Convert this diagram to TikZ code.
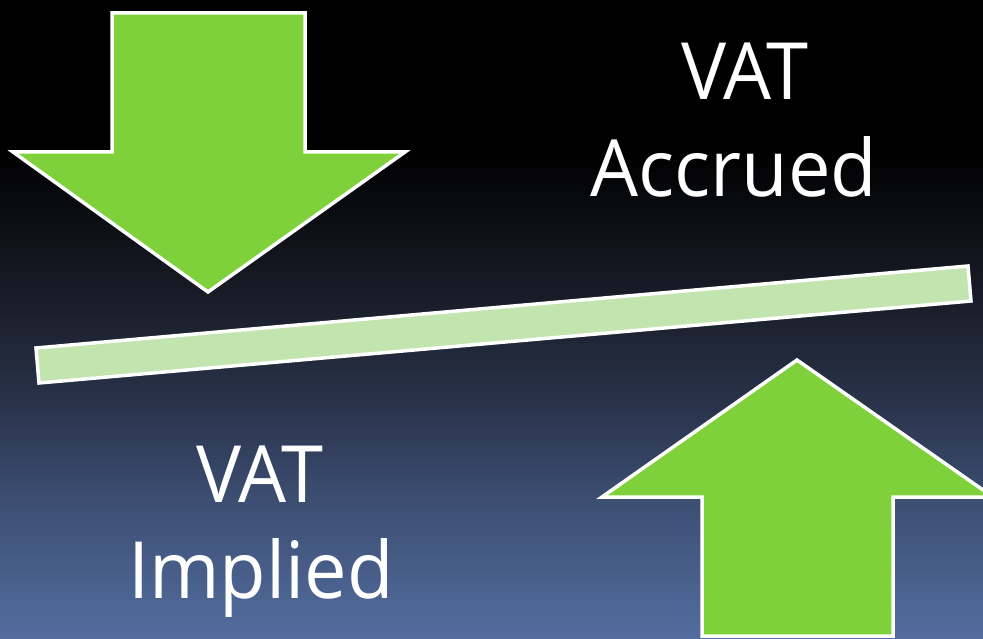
\documentclass[tikz,border=0pt]{standalone}
\usepackage{fontspec}
\setmainfont{Open Sans}
\definecolor{arrowgreen}{HTML}{7FD13B}
\definecolor{bargreen}{HTML}{C2E4AE}
\definecolor{bgA}{HTML}{536D9F}
\definecolor{bgB}{HTML}{3C4E72}
\definecolor{bgC}{HTML}{283249}
\definecolor{bgD}{HTML}{191D28}
\pgfdeclareverticalshading{bgshade}{100bp}{color(0bp)=(bgA); color(25bp)=(bgA); color(35.9bp)=(bgB); color(43.7bp)=(bgC); color(51.5bp)=(bgD); color(63.3bp)=(black); color(100bp)=(black)}
\tikzset{
  shapeline/.style={draw=white, line width=3.5pt, line join=miter},
  bigarrow/.style={shapeline, fill=arrowgreen},
  barshape/.style={shapeline, fill=bargreen},
  label/.style={text=white, inner sep=0pt, font=\fontsize{79}{94}\selectfont, xscale=0.96}
}
\begin{document}
\begin{tikzpicture}[x=1pt, y=-1pt]
\useasboundingbox (0,0) rectangle (983,639);
\clip (0,0) rectangle (983,639);
\shade[shading=bgshade] (0,0) rectangle (983,639);
% down arrow
\draw[bigarrow] (112,13) -- (305,13) -- (305,152) -- (405,152) -- (208,292) -- (13,152) -- (112,152) -- cycle;
% tilted bar
\draw[barshape] (36,348) -- (968,266) -- (971,301) -- (39,383) -- cycle;
% up arrow
\draw[bigarrow] (797,360) -- (993,497) -- (893,497) -- (893,636) -- (702,636) -- (702,497) -- (602,497) -- cycle;
% texts
\node[label, anchor=base] (vatA) at (745,100) {VAT};
\node[label, anchor=base] (accrued) at (734,197) {Accrued};
\node[label, anchor=base] (vatI) at (260,502) {VAT};
\node[label, anchor=base] (implied) at (261,598) {Implied};
\end{tikzpicture}
\end{document}
